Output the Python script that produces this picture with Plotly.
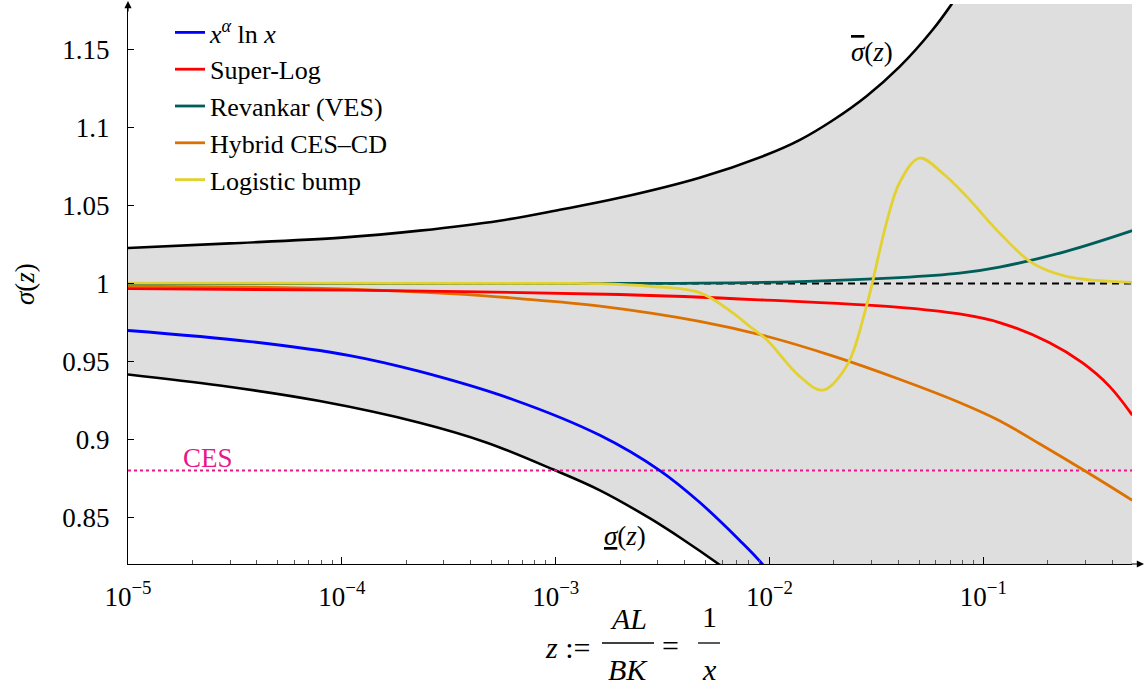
import plotly.graph_objects as go

# ---------------- data ----------------
z_upper = [1e-5, 2.99e-5, 1e-4, 2.31e-4, 5.47e-4, 1.045e-3, 1.99e-3, 4.71e-3, 9.68e-3, 1.38e-2, 1.97e-2,
           2.84e-2, 4.05e-2, 5.78e-2, 7.16e-2, 9.07e-2, 0.183, 0.5]
s_upper = [1.0229, 1.0258, 1.0295, 1.034, 1.0404, 1.0474, 1.0551, 1.068, 1.0827, 1.0921, 1.1047,
           1.1203, 1.1391, 1.1628, 1.1801, 1.2013, 1.30, 1.6]

z_lower = [1e-5, 2.69e-5, 7.88e-5, 2.31e-4, 4.77e-4, 9.68e-4, 1.61e-3, 2.75e-3, 3.92e-3, 5.71e-3, 8.07e-3, 0.5]
s_lower = [0.9417, 0.9346, 0.9246, 0.9107, 0.8979, 0.8808, 0.8673, 0.8494, 0.8359, 0.8205, 0.8054, 0.5]

z_blue = [1e-5, 3.72e-5, 1.09e-4, 2.31e-4, 6.3e-4, 1.61e-3, 3.06e-3, 4.71e-3, 7.24e-3, 9.18e-3, 1.24e-2]
s_blue = [0.9699, 0.9628, 0.9538, 0.9436, 0.9256, 0.9026, 0.8801, 0.8596, 0.8353, 0.8205, 0.797]

z_red = [1e-5, 1.09e-4, 1.99e-3, 8.97e-3, 4.05e-2, 7.73e-2, 0.119, 0.203, 0.290, 0.388, 0.497]
s_red = [0.9968, 0.9958, 0.9930, 0.9896, 0.9848, 0.9805, 0.975, 0.9622, 0.9492, 0.9342, 0.9156]

z_teal = [1e-5, 1e-3, 4.71e-3, 1.38e-2, 4.05e-2, 7.73e-2, 0.119, 0.244, 0.497]
s_teal = [1.0, 1.0001, 1.0003, 1.0013, 1.0038, 1.0067, 1.0106, 1.0207, 1.034]

z_orange = [1e-5, 3.72e-5, 1.09e-4, 3.2e-4, 6.79e-4, 1.61e-3, 4.71e-3, 9.68e-3, 1.97e-2, 4.05e-2, 7.73e-2,
            0.119, 0.183, 0.290, 0.497]
s_orange = [0.9984, 0.9978, 0.9965, 0.9936, 0.9904, 0.9856, 0.9758, 0.9662, 0.9536, 0.9386, 0.9237,
            0.9120, 0.8972, 0.8808, 0.8609]

z_yellow = [1e-5, 1e-3, 1.61e-3, 2.75e-3, 4.71e-3, 6.71e-3, 8.07e-3, 9.68e-3, 1.38e-2, 1.77e-2, 2.29e-2,
            2.84e-2, 3.52e-2, 4.05e-2, 5.02e-2, 6.43e-2, 8.34e-2, 0.119, 0.169, 0.244, 0.497]
s_yellow = [1.0003, 1.0002, 1.0, 0.9983, 0.9942, 0.9814, 0.9726, 0.9641, 0.9406, 0.9316, 0.947,
            0.9855, 1.0389, 1.0646, 1.0806, 1.071, 1.056, 1.0325, 1.0133, 1.0047, 1.0008]

z_ref = [1e-5, 0.5]
s_one = [1.0, 1.0]
s_ces = [0.88, 0.88]

series_names = ["<i>x</i><sup><i>α</i></sup> ln <i>x</i>", "Super-Log", "Revankar (VES)", "Hybrid CES–CD", "Logistic bump"]
series_colors = ["#0000FF", "#FF0000", "#005E5A", "#DD7100", "#E3D132"]

xtick_vals = [1e-5, 1e-4, 1e-3, 1e-2, 1e-1]
xtick_text = ["10<sup>−5</sup>", "10<sup>−4</sup>", "10<sup>−3</sup>", "10<sup>−2</sup>", "10<sup>−1</sup>"]
ytick_vals = [0.85, 0.9, 0.95, 1.0, 1.05, 1.1, 1.15]
ytick_text = ["0.85", "0.9", "0.95", "1", "1.05", "1.1", "1.15"]
minor_vals = [m * 10 ** k for k in range(-5, 0) for m in range(2, 10)] + [0.2, 0.3, 0.4]

FONT = "Liberation Serif"
FS = 27

# plot-area geometry helpers (pixels -> paper)
L, R, T, B = 128, 14, 4, 132
W, H = 1146 - L - R, 696 - T - B


def P(px, py):
    return (px - L) / W, (696 - B - py) / H


fig = go.Figure()

# lower bound (fill base)
fig.add_trace(go.Scatter(x=z_lower, y=s_lower, mode="lines", line=dict(color="black", width=2.6, shape="spline"),
                         showlegend=False, hoverinfo="skip"))
# upper bound with fill to lower
fig.add_trace(go.Scatter(x=z_upper, y=s_upper, mode="lines", line=dict(color="black", width=2.6, shape="spline"),
                         fill="tonexty", fillcolor="rgb(222,222,222)", showlegend=False, hoverinfo="skip"))
# reference lines
fig.add_trace(go.Scatter(x=z_ref, y=s_one, mode="lines", line=dict(color="black", width=2, dash="7px,5px"),
                         showlegend=False, hoverinfo="skip"))
fig.add_trace(go.Scatter(x=z_ref, y=s_ces, mode="lines", line=dict(color="#E8168B", width=2, dash="dot"),
                         showlegend=False, hoverinfo="skip"))

curves = [(z_blue, s_blue), (z_red, s_red), (z_teal, s_teal), (z_orange, s_orange), (z_yellow, s_yellow)]
draw_order = [0, 3, 1, 2, 4]
for i in draw_order:
    zx, sy = curves[i]
    fig.add_trace(go.Scatter(x=zx, y=sy, mode="lines", name=series_names[i], legendrank=i + 1,
                             line=dict(color=series_colors[i], width=2.8, shape="spline")))

ann = []


def text_at(px, py, t, color="black", size=FS, **kw):
    x, y = P(px, py)
    d = dict(x=x, y=y, text=t, showarrow=False, xanchor="center", yanchor="middle",
             font=dict(size=size, family=FONT, color=color))
    d.update(kw)
    ann.append(d)


text_at(872, 52, "<span style='text-decoration:overline'><i>σ</i></span>(<i>z</i>)")
text_at(625, 536, "<span style='text-decoration:underline'><i>σ</i></span>(<i>z</i>)")
text_at(208, 458, "CES", color="#E8168B")
text_at(25, 284, "<i>σ</i>(<i>z</i>)", textangle=-90)
# x title as a built fraction
TS = 30
text_at(567, 647, "<i>z</i> :=", size=TS)
text_at(628, 618, "<i>AL</i>", size=TS)
text_at(628, 669, "<i>BK</i>", size=TS)
text_at(670, 645, "=", size=TS)
text_at(709, 617, "1", size=TS)
text_at(709, 669, "<i>x</i>", size=TS)

# axis arrows
x, y = P(128, 1)
ann.append(dict(x=x, y=y, ax=0, ay=12, text="", showarrow=True, arrowhead=2, arrowsize=1.2, arrowwidth=1.2,
                arrowcolor="black"))
x, y = P(1144, 564)
ann.append(dict(x=x, y=y, ax=-14, ay=0, text="", showarrow=True, arrowhead=2, arrowsize=1.2, arrowwidth=1.2,
                arrowcolor="black"))
for a in ann:
    a.setdefault("xref", "paper")
    a.setdefault("yref", "paper")

shapes = []
for (x0p, x1p, yp) in [(602, 654, 643), (698, 720, 643)]:
    x0, y0 = P(x0p, yp)
    x1, _ = P(x1p, yp)
    shapes.append(dict(type="line", xref="paper", yref="paper", x0=x0, x1=x1, y0=y0, y1=y0,
                       line=dict(color="black", width=1.3)))

lx, ly = P(170, 9)
fig.update_layout(
    width=1146, height=696,
    margin=dict(l=L, r=R, t=T, b=B),
    paper_bgcolor="white", plot_bgcolor="white",
    font=dict(family=FONT, size=FS, color="black"),
    showlegend=True,
    legend=dict(x=lx, y=ly, xanchor="left", yanchor="top", bgcolor="rgba(0,0,0,0)", traceorder="normal",
                font=dict(family=FONT, size=26), tracegroupgap=0, itemwidth=30),
    annotations=ann, shapes=shapes,
    xaxis=dict(type="log", range=[-5, -0.305], showgrid=False, zeroline=False,
               showline=True, linecolor="black", linewidth=1.2,
               tickvals=xtick_vals, ticktext=xtick_text, ticks="inside", ticklen=7, tickcolor="black",
               tickwidth=1, ticklabelstandoff=8, tickfont=dict(family=FONT, size=FS),
               minor=dict(tickvals=minor_vals, ticks="inside", ticklen=4, tickcolor="#555", tickwidth=0.8,
                          showgrid=False)),
    yaxis=dict(range=[0.82, 1.1795], showgrid=False, zeroline=False,
               showline=True, linecolor="black", linewidth=1.2,
               tickvals=ytick_vals, ticktext=ytick_text, ticks="inside", ticklen=6, tickcolor="black",
               tickwidth=1, ticklabelstandoff=12, tickfont=dict(family=FONT, size=FS)),
)

fig.write_html("out.html", config={"displayModeBar": False},
               post_script="document.body.style.margin='0px';")
